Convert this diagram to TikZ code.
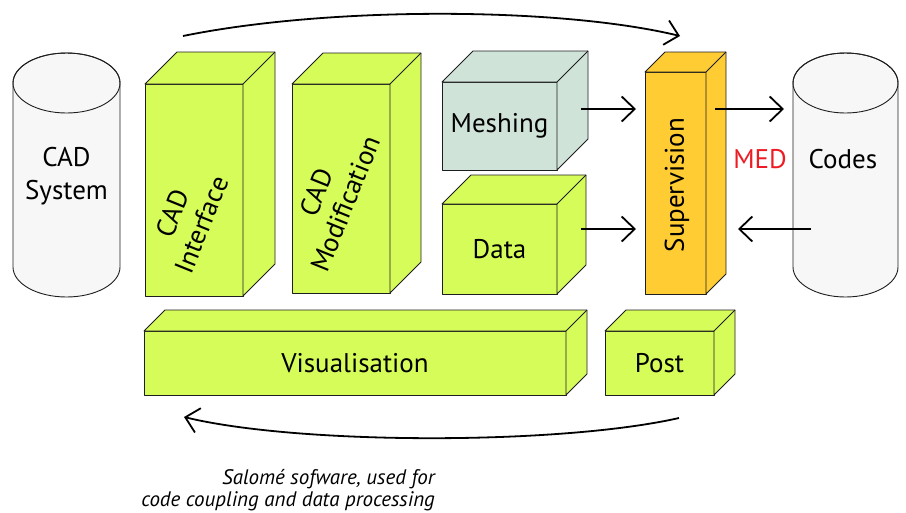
\documentclass[tikz,border=0pt]{standalone}
\usepackage{fontspec}
\setmainfont{PT Sans}
\usetikzlibrary{arrows.meta}
\definecolor{boxgreen}{RGB}{214,252,90}
\definecolor{meshgray}{RGB}{208,227,217}
\definecolor{supyellow}{RGB}{255,204,51}
\definecolor{cylgray}{RGB}{247,247,247}
\definecolor{medred}{RGB}{237,28,36}
\definecolor{edge}{RGB}{30,30,30}
\newcommand\cuboidfaces[3]{%
  \draw[face, fill=#3] (#1.north west) -- ++(#2,-#2) -- ([shift={(#2,-#2)}]#1.north east)
     -- ([shift={(#2,-#2)}]#1.south east) -- (#1.south east) -- (#1.north east) -- cycle;
  \draw[face] (#1.north east) -- ++(#2,-#2);
}
\begin{document}
\begin{tikzpicture}[x=1pt,y=-1pt,
  face/.style={draw=edge, line width=0.9pt, line join=round},
  front/.style={face, rectangle, inner sep=0pt, outer sep=0pt, font=\fontsize{27}{33}\selectfont},
  label/.style={font=\fontsize{27}{33}\selectfont, align=center, inner sep=0pt},
  rotlabel/.style={font=\fontsize{27}{31}\selectfont, align=center, inner sep=0pt, rotate=68},
  arr/.style={line width=1.8pt, -{Straight Barb[length=13pt,width=25pt,line width=1.8pt]}},
]
\useasboundingbox (0,0) rectangle (906,512);

% CAD System cylinder
\draw[face, fill=cylgray] (13,83) -- (13,267) arc[start angle=180, end angle=0, x radius=53.5, y radius=30]
  -- (120,83) arc[start angle=0, end angle=-180, x radius=53.5, y radius=30] -- cycle;
\draw[face] (66.5,83) ellipse[x radius=53.5, y radius=30];
\node[label] (cadsys) at (66.5,176) {CAD\\System};

% Codes cylinder
\draw[face, fill=cylgray] (793,83) -- (793,267) arc[start angle=180, end angle=0, x radius=52.5, y radius=30]
  -- (898,83) arc[start angle=0, end angle=-180, x radius=52.5, y radius=30] -- cycle;
\draw[face] (845.5,83) ellipse[x radius=52.5, y radius=30];
\node[label] (codes) at (843,159) {Codes};
\node[label, text=medred] (med) at (760,159) {MED};

% CAD Interface
\node[front, fill=boxgreen, minimum width=98, minimum height=212] (ci) at (194,190) {};
\cuboidfaces{ci}{32}{boxgreen}
\node[rotlabel] (citext) at (187,219) {CAD\\Interface};

% CAD Modification
\node[front, fill=boxgreen, minimum width=98, minimum height=209] (cm) at (341,188.5) {};
\cuboidfaces{cm}{31}{boxgreen}
\node[rotlabel] (cmtext) at (331,198) {CAD\\Modification};

% Meshing
\node[front, fill=meshgray, minimum width=115, minimum height=88] (mesh) at (499.5,126) {Meshing};
\cuboidfaces{mesh}{31}{meshgray}

% Data
\node[front, fill=boxgreen, minimum width=115, minimum height=90] (data) at (499.5,249) {Data};
\cuboidfaces{data}{29}{boxgreen}

% Supervision
\node[front, fill=supyellow, minimum width=61, minimum height=222] (sup) at (675.5,183) {};
\cuboidfaces{sup}{20}{supyellow}
\node[label, rotate=90] (suptext) at (677,185) {Supervision};

% Visualisation
\node[front, fill=boxgreen, minimum width=422, minimum height=64] (vis) at (355,363) {Visualisation};
\cuboidfaces{vis}{21}{boxgreen}

% Post
\node[front, fill=boxgreen, minimum width=109, minimum height=64] (post) at (659.5,363) {Post};
\cuboidfaces{post}{21}{boxgreen}

% horizontal arrows
\coordinate (ms) at (581,109);
\coordinate (ds) at (581,229);
\coordinate (ss) at (715,109);
\coordinate (cs) at (811,229);
\draw[arr, shorten >=9pt] (ms) -- (sup.west |- ms);
\draw[arr, shorten >=9pt] (ds) -- (sup.west |- ds);
\draw[arr] (ss) -- (784,109) coordinate (ce);
\draw[arr] (cs) -- (738,229) coordinate (se);

% curved arrows
\coordinate (ta) at (183,36);
\coordinate (tb) at (680,36);
\draw[arr] (ta) .. controls (330,6) and (560,7) .. (tb);
\coordinate (ba) at (679,418);
\coordinate (bb) at (184,417);
\draw[arr] (ba) .. controls (560,445) and (300,445) .. (bb);

% caption
\node[font=\itshape\fontsize{21}{22}\selectfont, align=right, anchor=east, inner sep=0pt] (cap) at (435,490)
  {Salomé sofware, used for\\code coupling and data processing};
\end{tikzpicture}
\end{document}
